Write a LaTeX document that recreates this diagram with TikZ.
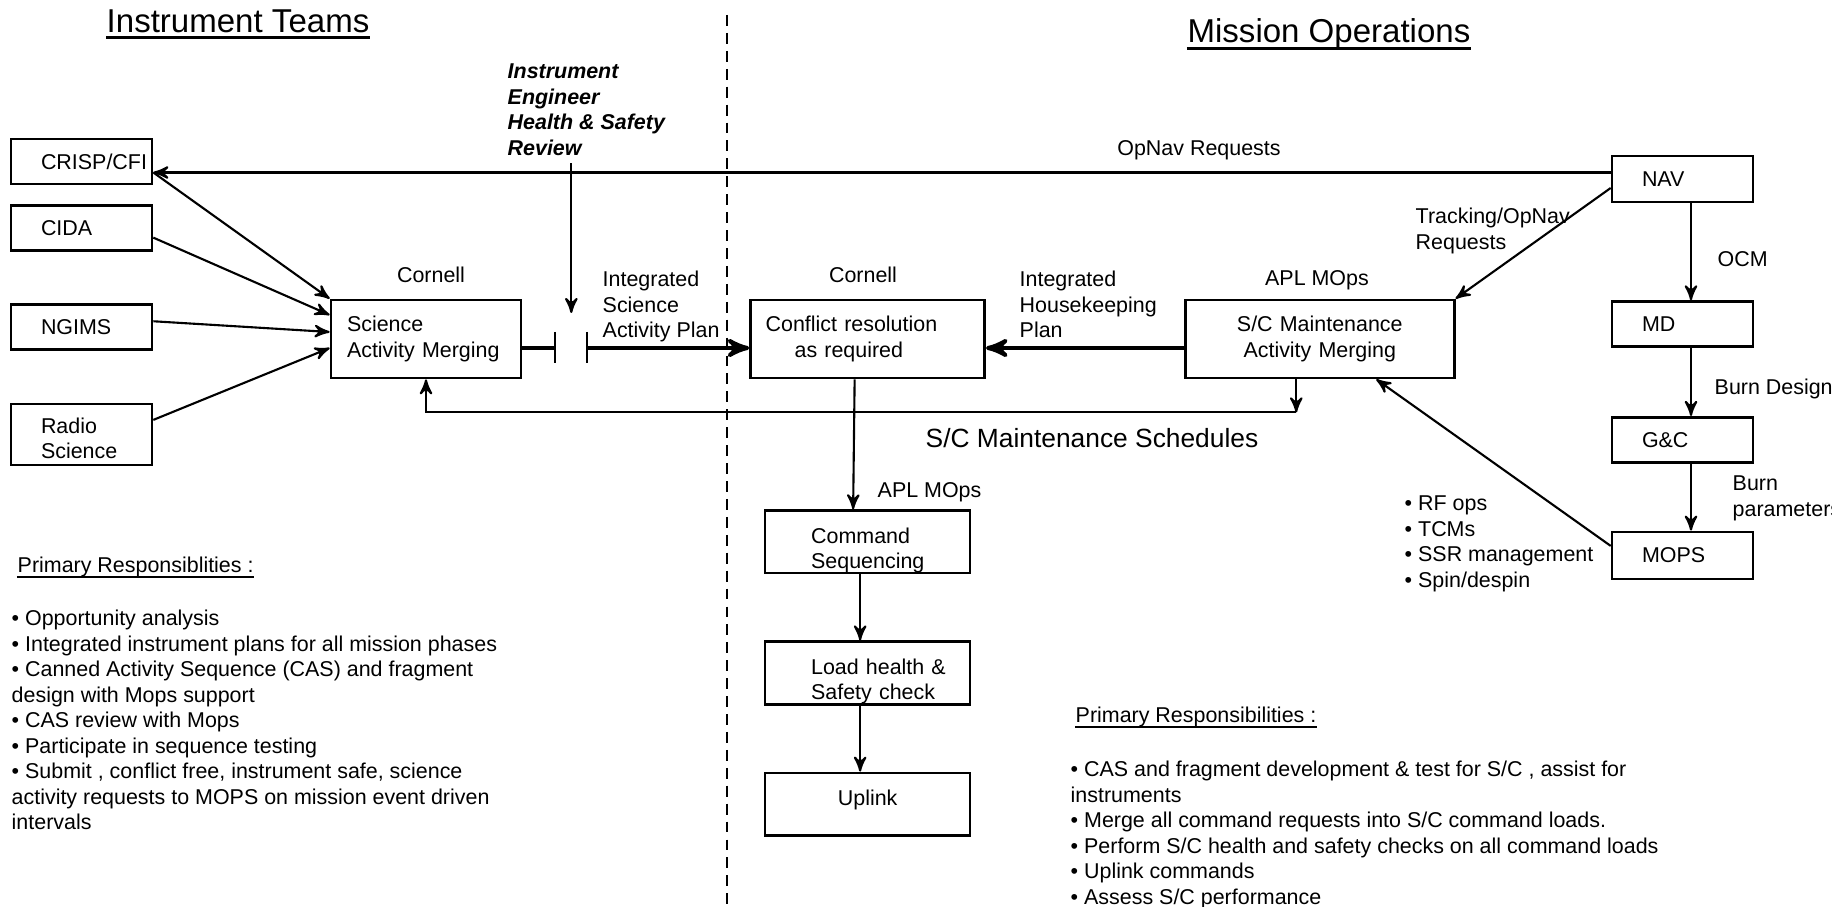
\documentclass[tikz,border=0pt]{standalone}
\usepackage{fontspec}
\setmainfont{Liberation Sans}
\usetikzlibrary{positioning, arrows}

\tikzset{
  box/.style={draw, line width=0.75pt, inner xsep=0.5mm, inner ysep=0pt},
  padleft/.style={align=left, execute at begin node={\leftskip=#1}},
  sidebox/.style={box, text width=1.31cm, minimum height=0.45cm, padleft=2.5mm},
  seqbox/.style={box, text width=1.95cm, text height=3.25mm, text depth=3mm},
  lbl/.style={inner sep=0pt, align=left},
  link/.style={line width=0.6pt, -stealth'},
  heavy/.style={line width=1.15pt},
  uline/.style={line width=0.45pt},
}

\begin{document}
\begin{tikzpicture}[font=\fontsize{6.1}{7.25}\selectfont]
	\useasboundingbox (0,0) rectangle (18.32,-9.07);

	% Headings
	\node[lbl, anchor=base, font=\fontsize{9.4}{11}\selectfont] (itteams) at (2.38,-0.325) {Instrument Teams};
	\node[lbl, anchor=base, font=\fontsize{9.4}{11}\selectfont] (moteams) at (13.29,-0.425) {Mission Operations};
	\draw[line width=0.85pt] ([yshift=-0.55mm]itteams.base west) -- ([yshift=-0.55mm]itteams.base east);
	\draw[line width=0.85pt] ([yshift=-0.6mm]moteams.base west) -- ([yshift=-0.6mm]moteams.base east);

	% Divider
	\draw[line width=0.6pt, dash pattern=on 3.1pt off 2pt] (7.27,-0.15) -- (7.27,-9.07);

	% Instrument boxes
	\node[sidebox] (crisp) at (0.815,-1.615) {CRISP/CFI};
	\node[sidebox, below=0.19cm of crisp] (cida) {CIDA};
	\node[sidebox, below=0.51cm of cida] (ngims) {NGIMS};
	\node[sidebox, below=0.52cm of ngims, minimum height=0.61cm, text height=2.95mm, text depth=3.15mm] (radio) {Radio\\Science};

	% Merging and resolution boxes
	\node[box, text width=1.80cm, minimum height=0.78cm, padleft=1.1mm] (sam) at (4.26,-3.39) {Science\\Activity Merging};
	\node[box, text width=2.24cm, minimum height=0.78cm, padleft=1mm, right=2.27cm of sam] (conflict) {Conflict resolution\\\hspace*{2.9mm}as required};
	\node[box, text width=2.59cm, minimum height=0.78cm, align=center, right=1.98cm of conflict] (smam) {S/C Maintenance\\Activity Merging};

	% Navigation chain
	\node[sidebox, minimum height=0.46cm] (nav) at (16.825,-1.79) {NAV};
	\node[sidebox, below=0.97cm of nav] (md) {MD};
	\node[sidebox, below=0.68cm of md] (gc) {G\&C};
	\node[sidebox, below=0.67cm of gc, minimum height=0.47cm] (mops) {MOPS};

	% Sequencing chain
	\node[seqbox, padleft=4.1mm, below=1.30cm of conflict] (cmdseq) {Command\\Sequencing};
	\node[seqbox, padleft=4.1mm, below=0.66cm of cmdseq] (load) {Load health \&\\Safety check};
	\node[seqbox, align=center, below=0.66cm of load] (uplink) {Uplink};

	% Labels
	\node[lbl, anchor=north west, font=\fontsize{6.1}{7.25}\selectfont\bfseries\itshape] (review) at (5.07,-0.635) {Instrument\\Engineer\\Health \& Safety\\Review};
	\node[lbl] (cornella) at (4.31,-2.75) {Cornell};
	\node[lbl] (cornellb) at (8.63,-2.75) {Cornell};
	\node[lbl, anchor=base] (aplmopsa) at (13.17,-2.855) {APL MOps};
	\node[lbl, anchor=base west] (aplmopsb) at (8.77,-4.975) {APL MOps};
	\node[lbl, anchor=north west] (intsci) at (6.02,-2.705) {Integrated\\Science\\Activity Plan};
	\node[lbl, anchor=north west] (inthk) at (10.19,-2.705) {Integrated\\Housekeeping\\Plan};
	\node[lbl, anchor=base] (opnavlbl) at (11.99,-1.555) {OpNav Requests};
	\node[lbl, anchor=north west] (tracklbl) at (14.15,-2.075) {Tracking/OpNav\\Requests};
	\node[lbl, anchor=base west] (ocmlbl) at (17.17,-2.665) {OCM};
	\node[lbl, anchor=base west] (burnlbl) at (17.14,-3.945) {Burn Design};
	\node[lbl, anchor=north west] (parlbl) at (17.32,-4.755) {Burn\\parameters};
	\node[lbl, anchor=base, font=\fontsize{7.5}{9}\selectfont] (schedlbl) at (10.92,-4.474) {S/C Maintenance Schedules};
	\node[lbl, anchor=north west] (mopsops) at (14.04,-4.955) {• RF ops\\• TCMs\\• SSR management\\• Spin/despin};

	% Responsibilities
	\node[lbl, anchor=base west] (itresp) at (0.17,-5.73) {Primary Responsiblities :};
	\draw[uline] ([yshift=-0.4mm]itresp.base west) -- ([yshift=-0.4mm]itresp.base east);
	\node[lbl, anchor=north west] (itduties) at (0.11,-6.095) {• Opportunity analysis\\
		• Integrated instrument plans for all mission phases\\
		• Canned Activity Sequence (CAS) and fragment\\
		design with Mops support\\
		• CAS review with Mops\\
		• Participate in sequence testing\\
		• Submit , conflict free,  instrument safe, science\\
		activity requests to  MOPS on mission event driven\\
		intervals};
	\node[lbl, anchor=base west] (moresp) at (10.75,-7.23) {Primary Responsibilities :};
	\draw[uline] ([yshift=-0.4mm]moresp.base west) -- ([yshift=-0.4mm]moresp.base east);
	\node[lbl, anchor=north west] (moduties) at (10.70,-7.605) {• CAS and fragment development \& test for S/C , assist for\\
		instruments\\
		• Merge all command  requests into S/C command loads.\\
		• Perform S/C health and safety checks on all command loads\\
		• Uplink commands\\
		• Assess S/C performance};

	% Instrument inputs
	\coordinate (crispin) at ([yshift=-1.1mm]crisp.east);
	\draw[link] (crispin) -- (sam.north west);
	\draw[link] ([yshift=-0.95mm]cida.east) -- ([yshift=2.4mm]sam.west);
	\draw[link] ([yshift=0.55mm]ngims.east) -- ([yshift=0.7mm]sam.west);
	\draw[link] ([yshift=1.45mm]radio.east) -- ([yshift=-0.9mm]sam.west);
	\draw[link] (nav.west |- crispin) -- (crispin);

	% Review gap
	\coordinate (gapl) at ([xshift=3.3mm, yshift=-0.9mm]sam.east);
	\coordinate (gapr) at ([xshift=6.5mm, yshift=-0.9mm]sam.east);
	\coordinate (gapmid) at ([xshift=4.9mm, yshift=-0.9mm]sam.east);
	\draw[heavy] ([yshift=-0.9mm]sam.east) -- (gapl);
	\draw[heavy, -stealth'] (gapr) -- (gapr -| conflict.west);
	\draw[line width=0.6pt] ([yshift=1.6mm]gapl) -- ([yshift=-1.5mm]gapl);
	\draw[line width=0.6pt] ([yshift=1.6mm]gapr) -- ([yshift=-1.5mm]gapr);
	\coordinate (revfoot) at (review.south -| gapmid);
	\draw[link] ([yshift=-0.7mm]revfoot) -- ([yshift=3.5mm]gapmid);

	% Mission operations flow
	\draw[heavy, -stealth'] ([yshift=-0.9mm]smam.west) -- ([yshift=-0.9mm]conflict.east);
	\draw[link] ([yshift=-0.9mm]nav.west) -- (smam.north east);
	\draw[link] ([xshift=0.85mm]nav.south) -- ([xshift=0.85mm]md.north);
	\draw[link] ([xshift=0.85mm]md.south) -- ([xshift=0.85mm]gc.north);
	\draw[link] ([xshift=0.85mm]gc.south) -- ([xshift=0.85mm]mops.north);
	\draw[link] ([yshift=0.95mm]mops.west) -- ([xshift=5.65mm]smam.south);
	\draw[link] ([xshift=-2.35mm]smam.south) -- ++(0,-0.33) coordinate (fb);
	\draw[link] (fb) -| (sam.south);

	% Sequencing flow
	\draw[link] ([xshift=-1.3mm]conflict.south) -- ([xshift=-1.45mm]cmdseq.north);
	\draw[link] ([xshift=-0.75mm]cmdseq.south) -- ([xshift=-0.75mm]load.north);
	\draw[link] ([xshift=-0.75mm]load.south) -- ([xshift=-0.75mm]uplink.north);
\end{tikzpicture}
\end{document}
